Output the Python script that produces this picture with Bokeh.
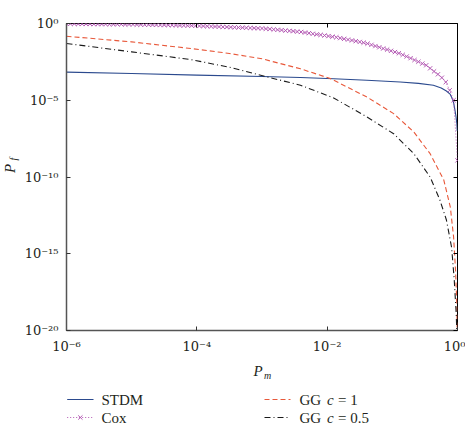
import math
import numpy as np
from bokeh.plotting import figure
from bokeh.layouts import column, row
from bokeh.models import FixedTicker, CustomJSTickFormatter, LogAxis, Range1d
from bokeh.core.properties import value
from bokeh.embed import file_html
from bokeh.resources import INLINE

# ---------------- data (log10 values) ----------------
x_ticks = [1e-6, 1e-4, 1e-2, 1e0]
y_ticks = [1e-20, 1e-15, 1e-10, 1e-5, 1e0]

stdm_log_pm = [-6, -5, -4, -3, -2.41, -1.9, -1.39, -0.88, -0.6, -0.37, -0.25, -0.17,
               -0.11, -0.08, -0.06, -0.045, -0.025, -0.01, -0.004]
stdm_log_pf = [-3.17, -3.26, -3.36, -3.45, -3.52, -3.6, -3.7, -3.81, -3.9, -4.02, -4.2, -4.4,
               -4.62, -4.9, -5.15, -5.5, -6.0, -6.52, -7.0]

gg1_log_pm = [-6, -5, -4.09, -3.5, -3, -2.41, -1.95, -1.39, -0.98, -0.67, -0.42, -0.21,
              -0.11, -0.06, -0.03, -0.01, -0.004]
gg1_log_pf = [-0.83, -1.2, -1.63, -1.95, -2.3, -2.95, -3.59, -4.79, -5.87, -7.07, -8.48, -10.2,
              -11.96, -13.9, -16.1, -18.3, -20.5]

gg05_log_pm = [-6, -5, -4.09, -3.5, -2.95, -2.41, -1.9, -1.39, -0.98, -0.67, -0.42, -0.27,
               -0.17, -0.09, -0.05, -0.02, -0.007]
gg05_log_pf = [-1.3, -1.85, -2.35, -2.85, -3.45, -4.02, -4.85, -6.09, -7.18, -8.48, -10.0, -11.5,
               -12.8, -14.6, -16.7, -18.9, -20.5]

cox_log_pm = [-6.00, -5.94, -5.88, -5.82, -5.76, -5.70, -5.64, -5.58, -5.52, -5.46,
              -5.40, -5.34, -5.28, -5.22, -5.16, -5.10, -5.04, -4.98, -4.92, -4.86,
              -4.80, -4.74, -4.68, -4.62, -4.56, -4.50, -4.44, -4.38, -4.32, -4.26,
              -4.20, -4.14, -4.08, -4.02, -3.96, -3.90, -3.84, -3.78, -3.72, -3.66,
              -3.60, -3.54, -3.48, -3.42, -3.36, -3.30, -3.24, -3.18, -3.12, -3.06,
              -3.00, -2.94, -2.88, -2.82, -2.76, -2.70, -2.64, -2.58, -2.52, -2.46,
              -2.40, -2.34, -2.28, -2.22, -2.16, -2.10, -2.04, -1.98, -1.92, -1.86,
              -1.80, -1.74, -1.68, -1.62, -1.56, -1.50, -1.44, -1.38, -1.32, -1.26,
              -1.20, -1.14, -1.08, -1.02, -0.96, -0.90, -0.84, -0.78, -0.72, -0.66,
              -0.60, -0.54, -0.48, -0.42, -0.36, -0.30, -0.24, -0.18, -0.12, -0.06,
              -0.0005]
cox_log_pf = [-0.02, -0.02, -0.02, -0.03, -0.03, -0.03, -0.03, -0.04, -0.04, -0.04,
              -0.04, -0.05, -0.05, -0.05, -0.05, -0.06, -0.06, -0.06, -0.07, -0.07,
              -0.08, -0.08, -0.09, -0.09, -0.10, -0.10, -0.11, -0.11, -0.12, -0.13,
              -0.13, -0.14, -0.14, -0.15, -0.16, -0.17, -0.18, -0.19, -0.20, -0.21,
              -0.22, -0.23, -0.24, -0.25, -0.26, -0.27, -0.28, -0.29, -0.30, -0.31,
              -0.32, -0.34, -0.36, -0.39, -0.41, -0.43, -0.46, -0.48, -0.50, -0.53,
              -0.55, -0.59, -0.63, -0.67, -0.71, -0.74, -0.78, -0.82, -0.86, -0.90,
              -0.95, -1.00, -1.05, -1.10, -1.15, -1.20, -1.25, -1.31, -1.39, -1.47,
              -1.55, -1.63, -1.70, -1.78, -1.86, -1.94, -2.04, -2.15, -2.26, -2.38,
              -2.49, -2.61, -2.72, -2.92, -3.12, -3.31, -3.53, -3.82, -4.35, -5.00,
              -8.92]

series_names = ["STDM", "Cox", "GG", "GG"]
gg_c_values = ["1", "0.5"]
colors = ["#2b4a8e", "#b45ab4", "#e8583a", "#1a1a1a"]

FONT = "Liberation Serif"
TICK_FONT = "DejaVu Serif"
TXT = "#231f20"


def tolin(a):
    return 10.0 ** np.array(a, dtype=float)


# ---------------- main plot ----------------
p = figure(width=445, height=360, x_axis_type="log", y_axis_type="log",
           x_range=Range1d(1e-6, 1), y_range=Range1d(1e-20, 1),
           output_backend="svg", toolbar_location=None,
           min_border_left=46, min_border_right=8, min_border_top=23, min_border_bottom=30,
           background_fill_color="white", border_fill_color="white")
p.grid.grid_line_color = None
p.outline_line_color = "black"
p.outline_line_width = 1

fmt_code = """
const e = Math.round(Math.log10(tick));
const m = {'-':'\u207b','0':'\u2070','1':'\u00b9','2':'\u00b2','3':'\u00b3','4':'\u2074',
           '5':'\u2075','6':'\u2076','7':'\u2077','8':'\u2078','9':'\u2079'};
return '10' + String(e).split('').map(c => m[c]).join('');
"""

for ax, ticks in ((p.xaxis[0], x_ticks), (p.yaxis[0], y_ticks)):
    ax.ticker = FixedTicker(ticks=ticks)
    ax.formatter = CustomJSTickFormatter(code=fmt_code)
    ax.major_tick_in = 4
    ax.major_tick_out = 0
    ax.minor_tick_line_color = None
    ax.axis_line_color = "#555555"
    ax.axis_line_width = 1.5
    ax.major_tick_line_color = "#333333"
    ax.major_label_text_font = TICK_FONT
    ax.major_label_text_font_size = "13px"
    ax.major_label_text_color = TXT
    ax.major_label_standoff = 8

for loc, ticks in (("above", x_ticks), ("right", y_ticks)):
    ax = LogAxis(ticker=FixedTicker(ticks=ticks),
                 formatter=CustomJSTickFormatter(code="return '';"),
                 major_tick_in=4, major_tick_out=0, minor_tick_line_color=None,
                 axis_line_color=None, major_label_standoff=0,
                 major_label_text_font_size="1px")
    p.add_layout(ax, loc)

p.line(tolin(stdm_log_pm), tolin(stdm_log_pf), line_color=colors[0], line_width=1.1)
p.line(tolin(cox_log_pm), tolin(cox_log_pf), line_color=colors[1], line_width=1,
       line_dash="1 2")
p.scatter(tolin(cox_log_pm), tolin(cox_log_pf), marker="x", size=6,
          line_color=colors[1], line_width=1)
p.line(tolin(gg1_log_pm), tolin(gg1_log_pf), line_color=colors[2], line_width=1.1,
       line_dash="5 3")
p.line(tolin(gg05_log_pm), tolin(gg05_log_pf), line_color=colors[3], line_width=1.1,
       line_dash="6 3 1 3")


def text_piece(fig, x, y, s, size, style="normal", angle=0.0, align="left"):
    fig.text(x=[x], y=[y], text=[s], text_font=value(FONT), text_font_size=value(size),
             text_font_style=value(style), text_align=value(align),
             text_baseline=value("middle"), text_color=TXT, angle=angle)


def blank_fig(w, h):
    f = figure(width=w, height=h, x_range=Range1d(0, w), y_range=Range1d(0, h),
               output_backend="svg", toolbar_location=None, min_border=0,
               x_axis_location=None, y_axis_location=None,
               background_fill_color="white", border_fill_color="white")
    f.grid.grid_line_color = None
    f.outline_line_color = None
    return f


# ---------------- left strip: y-axis title P_f ----------------
yf = blank_fig(20, 360)
text_piece(yf, 9, 190, "P", "15px", "italic", angle=math.pi / 2, align="center")
text_piece(yf, 12.5, 201, "f", "10px", "italic", angle=math.pi / 2, align="center")

# ---------------- bottom strip: x-axis title P_m and legend ----------------
bf = blank_fig(465, 68)
text_piece(bf, 257.5, 57.5, "P", "15px", "italic", align="center")
text_piece(bf, 267, 53, "m", "10px", "italic", align="center")

row1_y, row2_y = 29.0, 11.0
lx0, lx1, ltx = 66.7, 93.0, 101.0
rx0, rx1, rtx = 264.0, 290.0, 299.0

bf.line([lx0, lx1], [row1_y, row1_y], line_color=colors[0], line_width=1.1)
text_piece(bf, ltx, row1_y, series_names[0], "15px")

bf.line([lx0, lx1], [row2_y, row2_y], line_color=colors[1], line_width=1, line_dash="1 2")
bf.scatter([(lx0 + lx1) / 2], [row2_y], marker="x", size=6, line_color=colors[1], line_width=1)
text_piece(bf, ltx, row2_y, series_names[1], "15px")

bf.line([rx0, rx1], [row1_y, row1_y], line_color=colors[2], line_width=1.1, line_dash="5 3")
text_piece(bf, rtx, row1_y, series_names[2], "15px")
text_piece(bf, rtx + 27.5, row1_y, "c", "15px", "italic")
text_piece(bf, rtx + 38.5, row1_y, "= " + gg_c_values[0], "15px")

bf.line([rx0, rx1], [row2_y, row2_y], line_color=colors[3], line_width=1.1,
        line_dash="6 3 1 3")
text_piece(bf, rtx, row2_y, series_names[3], "15px")
text_piece(bf, rtx + 27.5, row2_y, "c", "15px", "italic")
text_piece(bf, rtx + 38.5, row2_y, "= " + gg_c_values[1], "15px")

layout = column(row(yf, p), bf)
open("out.html", "w").write(file_html(layout, INLINE))
